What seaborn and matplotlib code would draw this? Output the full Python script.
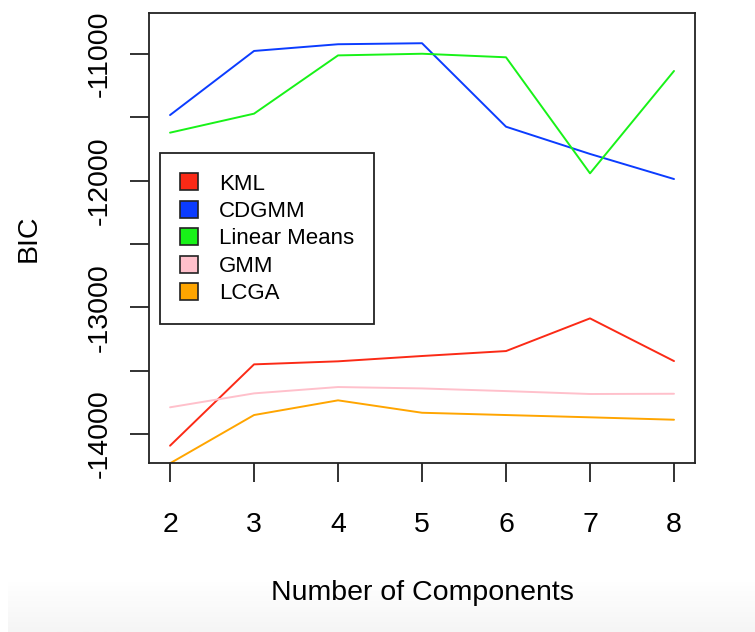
import numpy as np
import pandas as pd
import matplotlib
matplotlib.use("Agg")
import matplotlib.pyplot as plt
from matplotlib.patches import Patch
import seaborn as sns

components = [2, 3, 4, 5, 6, 7, 8]
kml = [-14092, -13450, -13426, -13384, -13345, -13087, -13424]
cdgmm = [-11482, -10976, -10923, -10915, -11574, -11789, -11987]
linear_means = [-11621, -11471, -11011, -10998, -11026, -11942, -11134]
gmm = [-13789, -13679, -13629, -13640, -13661, -13684, -13682]
lcga = [-14231, -13850, -13734, -13832, -13850, -13868, -13887]

methods = ["KML", "CDGMM", "Linear Means", "GMM", "LCGA"]
series = [kml, cdgmm, linear_means, gmm, lcga]
colors = ["#fb2a16", "#0b3cff", "#18f218", "#ffc0cb", "#ffa500"]
y_ticks = [-11000, -11500, -12000, -12500, -13000, -13500, -14000]
y_labels = ["-11000", "", "-12000", "", "-13000", "", "-14000"]

df = pd.DataFrame({
    "Number of Components": np.tile(components, len(methods)),
    "BIC": np.concatenate(series),
    "method": np.repeat(methods, len(components)),
})

sns.set_style("white")
plt.rcParams["font.family"] = ["Liberation Sans", "DejaVu Sans"]
plt.rcParams["text.color"] = "black"
plt.rcParams["axes.labelcolor"] = "black"

fig = plt.figure(figsize=(7.55, 6.32), dpi=100)

# faint screenshot shading at the bottom
bg = fig.add_axes([0.01, 0, 0.99, 0.08], zorder=-10)
grad = np.linspace(0, 1, 50)[:, None]
bg.imshow(grad, aspect="auto", cmap=matplotlib.colors.LinearSegmentedColormap.from_list(
    "g", ["#f5f5f5", "#ffffff"]), extent=[0, 1, 0, 1], origin="lower")
bg.axis("off")

ax = fig.add_axes([149.3 / 755, 1 - 463.3 / 632, (695 - 149.3) / 755, (463.3 - 12.7) / 632])

pal = dict(zip(methods, colors))
sns.lineplot(data=df, x="Number of Components", y="BIC", hue="method",
             palette=pal, linewidth=1.4, ax=ax, legend=False, estimator=None)

ax.set_xlim(1.753, 8.25)
ax.set_ylim(-14231, -10674)
ax.set_xticks(components)
ax.set_xticklabels([str(c) for c in components])
ax.set_yticks(y_ticks)
ax.set_yticklabels(y_labels, rotation=90, va="center")
ax.tick_params(axis="both", direction="out", length=14, width=1.3, color="#222222",
               labelsize=20.5, labelcolor="black", left=True, bottom=True)
ax.tick_params(axis="x", pad=21)
ax.tick_params(axis="y", pad=12)
for s in ax.spines.values():
    s.set_visible(True)
    s.set_color("#222222")
    s.set_linewidth(1.3)

ax.set_xlabel("Number of Components", fontsize=20.5, labelpad=30, color="black")
ax.set_ylabel("BIC", fontsize=20.5, labelpad=33, color="black")

handles = [Patch(facecolor=c, edgecolor="#222222", linewidth=1.2, label=m)
           for m, c in zip(methods, colors)]
leg = ax.legend(handles=handles, loc="upper left",
                bbox_to_anchor=((160.3 - 149.3) / (695 - 149.3), (463.3 - 153.3) / (463.3 - 12.7)),
                fontsize=16, frameon=True, fancybox=False, handlelength=0.8,
                handleheight=0.8, handletextpad=0.95, labelspacing=0.28,
                borderpad=0.9, borderaxespad=0, edgecolor="#222222")
leg.get_frame().set_linewidth(1.3)
leg.get_frame().set_alpha(1)
for t in leg.get_texts():
    t.set_color("black")

fig.savefig("out.png", dpi=100)
